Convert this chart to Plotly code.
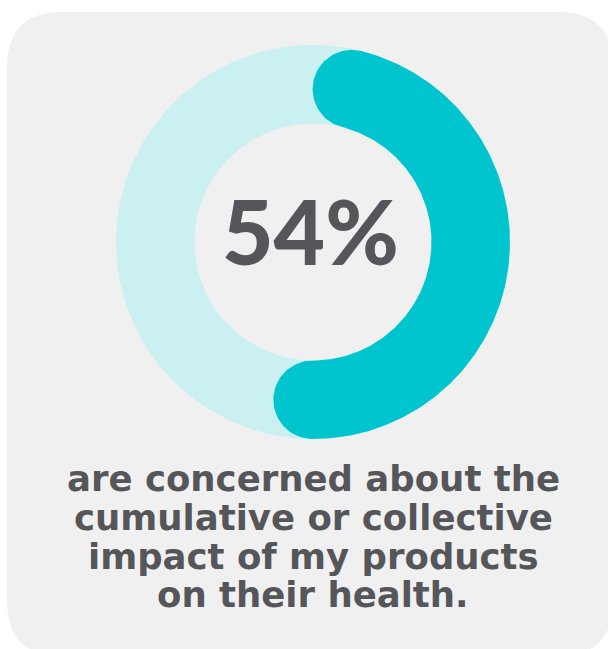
import numpy as np
import plotly.graph_objects as go

# ---- data ----
share_pct = 54
big_label = f"{share_pct}%"
caption_lines = [
    "are concerned about the",
    "cumulative or collective",
    "impact of my products",
    "on their health.",
]

# ---- style / geometry ----
W, H = 608, 649
CX, CY = 313.0, 242.0
R_OUT, R_IN = 197.0, 118.5
TEAL = "#00c5cf"
TRACK = "#caf0f1"
PANEL = "#f0f0f0"
TEXT = "#55565a"

RC = (R_OUT + R_IN) / 2
HW = (R_OUT - R_IN) / 2


def pt(r, deg):
    t = np.radians(deg)
    return CX + r * np.sin(t), CY - r * np.cos(t)


# track ring (annulus)
th = np.linspace(0, 360, 361)
xo, yo = pt(R_OUT, th)
xi, yi = pt(R_IN, th[::-1])
track_x = np.concatenate([xo, xi])
track_y = np.concatenate([yo, yi])

# value arc with rounded caps
span = share_pct / 100 * 360
cap = np.degrees(HW / RC)
a0, a1 = cap, span - cap
arc = np.linspace(a0, a1, 300)
ox, oy = pt(R_OUT, arc)
ix, iy = pt(R_IN, arc[::-1])
phi = np.linspace(0, np.pi, 60)
# end cap
t1 = np.radians(a1)
u1 = np.array([np.sin(t1), -np.cos(t1)])
v1 = np.array([np.cos(t1), np.sin(t1)])
p1 = np.array(pt(RC, a1))
c1x = p1[0] + HW * (u1[0] * np.cos(phi) + v1[0] * np.sin(phi))
c1y = p1[1] + HW * (u1[1] * np.cos(phi) + v1[1] * np.sin(phi))
# start cap
t0 = np.radians(a0)
u0 = np.array([np.sin(t0), -np.cos(t0)])
v0 = np.array([np.cos(t0), np.sin(t0)])
p0 = np.array(pt(RC, a0))
c0x = p0[0] + HW * (-u0[0] * np.cos(phi) - v0[0] * np.sin(phi))
c0y = p0[1] + HW * (-u0[1] * np.cos(phi) - v0[1] * np.sin(phi))
val_x = np.concatenate([ox, c1x, ix, c0x])
val_y = np.concatenate([oy, c1y, iy, c0y])

fig = go.Figure()
fig.add_trace(go.Scatter(x=track_x, y=track_y, mode="lines", fill="toself",
                         fillcolor=TRACK, line=dict(width=0, color=TRACK),
                         hoverinfo="skip", showlegend=False))
fig.add_trace(go.Scatter(x=val_x, y=val_y, mode="lines", fill="toself",
                         fillcolor=TEAL, line=dict(width=0, color=TEAL),
                         hoverinfo="skip", showlegend=False))

# panel background (rounded rectangle)
L, T, R, B, r = 7, 12, 613, 656, 55
panel_path = (f"M {L+r},{T} L {R-r},{T} Q {R},{T} {R},{T+r} L {R},{B-r} "
              f"Q {R},{B} {R-r},{B} L {L+r},{B} Q {L},{B} {L},{B-r} "
              f"L {L},{T+r} Q {L},{T} {L+r},{T} Z")
fig.add_shape(type="path", path=panel_path, xref="x", yref="y",
              fillcolor=PANEL, line=dict(width=0), layer="below")

fig.add_annotation(x=CX - 3, y=230, text=big_label, showarrow=False,
                   xanchor="center", yanchor="middle",
                   font=dict(family="Lato", size=89, weight=900, color=TEXT))

baselines = [492, 531, 570, 608]
for line, yb in zip(caption_lines, baselines):
    fig.add_annotation(x=CX, y=yb, text=line, showarrow=False,
                       xanchor="center", yanchor="bottom", yshift=-9,
                       font=dict(family="DejaVu Sans", size=35.5, weight=700,
                                 color=TEXT))

fig.update_xaxes(range=[0, W], visible=False, fixedrange=True)
fig.update_yaxes(range=[H, 0], visible=False, fixedrange=True)
fig.update_layout(width=W, height=H, margin=dict(l=0, r=0, t=0, b=0),
                  paper_bgcolor="white", plot_bgcolor="white")

fig.write_html("out.html", config={"displayModeBar": False})
